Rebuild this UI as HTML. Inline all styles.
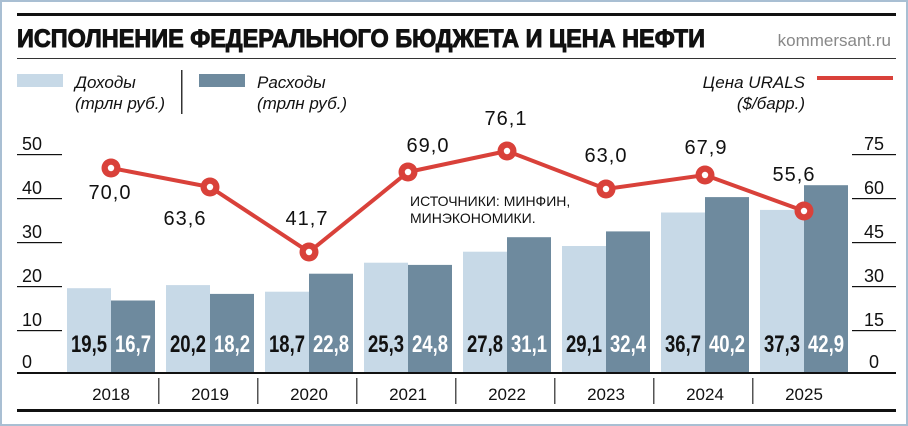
<!DOCTYPE html>
<html><head><meta charset="utf-8"><style>
body{margin:0;background:#fff}
svg{display:block}
text{font-family:"Liberation Sans",sans-serif}
.b{font-weight:bold;font-size:24px}
.o{font-size:20px;fill:#111;letter-spacing:1px}
.t{font-size:17px;fill:#111}
</style></head><body>
<svg width="908" height="426" viewBox="0 0 908 426">
<rect x="1" y="1" width="906" height="424" fill="#fff" stroke="#a9bfd3" stroke-width="2"/>
<rect x="17" y="13" width="879" height="3" fill="#111"/>
<text x="17" y="47" font-size="25" font-weight="900" fill="#111" stroke="#111" stroke-width="1" textLength="688" lengthAdjust="spacingAndGlyphs">ИСПОЛНЕНИЕ ФЕДЕРАЛЬНОГО БЮДЖЕТА И ЦЕНА НЕФТИ</text>
<text x="891" y="46" font-size="17" fill="#888" text-anchor="end">kommersant.ru</text>
<rect x="17" y="58" width="879" height="1" fill="#333"/>
<rect x="17" y="74" width="46" height="13" fill="#c7d9e7"/>
<text x="75" y="88" class="t" font-style="italic">Доходы</text>
<text x="75" y="109" class="t" font-style="italic">(трлн руб.)</text>
<rect x="181" y="70" width="1.5" height="44" fill="#333"/>
<rect x="199" y="74" width="46" height="13" fill="#6e8a9e"/>
<text x="257" y="88" class="t" font-style="italic">Расходы</text>
<text x="257" y="109" class="t" font-style="italic">(трлн руб.)</text>
<text x="805" y="88" class="t" font-style="italic" text-anchor="end">Цена URALS</text>
<text x="805" y="109" class="t" font-style="italic" text-anchor="end">($/барр.)</text>
<rect x="817" y="76" width="76" height="4" fill="#d9413a"/>
<g fill="#111" font-size="18">
<rect x="17" y="154" width="45" height="1.2"/><text x="22" y="150">50</text>
<rect x="17" y="198" width="45" height="1.2"/><text x="22" y="194">40</text>
<rect x="17" y="242" width="45" height="1.2"/><text x="22" y="238">30</text>
<rect x="17" y="286" width="45" height="1.2"/><text x="22" y="282">20</text>
<rect x="17" y="330" width="45" height="1.2"/><text x="22" y="326">10</text>
<text x="22" y="368">0</text>
<rect x="852" y="154" width="44" height="1.2"/><text x="874" y="150" text-anchor="middle">75</text>
<rect x="852" y="198" width="44" height="1.2"/><text x="874" y="194" text-anchor="middle">60</text>
<rect x="852" y="242" width="44" height="1.2"/><text x="874" y="238" text-anchor="middle">45</text>
<rect x="852" y="286" width="44" height="1.2"/><text x="874" y="282" text-anchor="middle">30</text>
<rect x="852" y="330" width="44" height="1.2"/><text x="874" y="326" text-anchor="middle">15</text>
<text x="874" y="368" text-anchor="middle">0</text>
</g>
<g id="bars">
<rect x="67" y="288.2" width="44" height="85.8" fill="#c7d9e7"/><rect x="111" y="300.5" width="44" height="73.5" fill="#6e8a9e"/>
<rect x="166" y="285.1" width="44" height="88.9" fill="#c7d9e7"/><rect x="210" y="293.9" width="44" height="80.1" fill="#6e8a9e"/>
<rect x="265" y="291.7" width="44" height="82.3" fill="#c7d9e7"/><rect x="309" y="273.7" width="44" height="100.3" fill="#6e8a9e"/>
<rect x="364" y="262.7" width="44" height="111.3" fill="#c7d9e7"/><rect x="408" y="264.9" width="44" height="109.1" fill="#6e8a9e"/>
<rect x="463" y="251.7" width="44" height="122.3" fill="#c7d9e7"/><rect x="507" y="237.2" width="44" height="136.8" fill="#6e8a9e"/>
<rect x="562" y="246" width="44" height="128" fill="#c7d9e7"/><rect x="606" y="231.4" width="44" height="142.6" fill="#6e8a9e"/>
<rect x="661" y="212.5" width="44" height="161.5" fill="#c7d9e7"/><rect x="705" y="197.1" width="44" height="176.9" fill="#6e8a9e"/>
<rect x="760" y="209.9" width="44" height="164.1" fill="#c7d9e7"/><rect x="804" y="185.2" width="44" height="188.8" fill="#6e8a9e"/>
</g>
<g class="b" text-anchor="middle">
<g fill="#111">
<text x="89" y="352" textLength="36" lengthAdjust="spacingAndGlyphs">19,5</text>
<text x="188" y="352" textLength="36" lengthAdjust="spacingAndGlyphs">20,2</text>
<text x="287" y="352" textLength="36" lengthAdjust="spacingAndGlyphs">18,7</text>
<text x="386" y="352" textLength="36" lengthAdjust="spacingAndGlyphs">25,3</text>
<text x="485" y="352" textLength="36" lengthAdjust="spacingAndGlyphs">27,8</text>
<text x="584" y="352" textLength="36" lengthAdjust="spacingAndGlyphs">29,1</text>
<text x="683" y="352" textLength="36" lengthAdjust="spacingAndGlyphs">36,7</text>
<text x="782" y="352" textLength="36" lengthAdjust="spacingAndGlyphs">37,3</text>
</g>
<g fill="#fff">
<text x="133" y="352" textLength="36" lengthAdjust="spacingAndGlyphs">16,7</text>
<text x="232" y="352" textLength="36" lengthAdjust="spacingAndGlyphs">18,2</text>
<text x="331" y="352" textLength="36" lengthAdjust="spacingAndGlyphs">22,8</text>
<text x="430" y="352" textLength="36" lengthAdjust="spacingAndGlyphs">24,8</text>
<text x="529" y="352" textLength="36" lengthAdjust="spacingAndGlyphs">31,1</text>
<text x="628" y="352" textLength="36" lengthAdjust="spacingAndGlyphs">32,4</text>
<text x="727" y="352" textLength="36" lengthAdjust="spacingAndGlyphs">40,2</text>
<text x="826" y="352" textLength="36" lengthAdjust="spacingAndGlyphs">42,9</text>
</g>
</g>
<rect x="17" y="372" width="879" height="2" fill="#111"/>
<g fill="#555"><rect x="158" y="378" width="1.5" height="26"/><rect x="257" y="378" width="1.5" height="26"/><rect x="356" y="378" width="1.5" height="26"/><rect x="455" y="378" width="1.5" height="26"/><rect x="554" y="378" width="1.5" height="26"/><rect x="653" y="378" width="1.5" height="26"/><rect x="752" y="378" width="1.5" height="26"/></g>
<g font-size="17" fill="#111" text-anchor="middle">
<text x="111" y="400">2018</text><text x="210" y="400">2019</text><text x="309" y="400">2020</text><text x="408" y="400">2021</text><text x="507" y="400">2022</text><text x="606" y="400">2023</text><text x="705" y="400">2024</text><text x="804" y="400">2025</text>
</g>
<rect x="17" y="409" width="879" height="3" fill="#111"/>
<text x="410" y="206" font-size="14" fill="#111">ИСТОЧНИКИ: МИНФИН,</text>
<text x="410" y="223" font-size="14" fill="#111">МИНЭКОНОМИКИ.</text>
<polyline points="111,168 210,187 309,252 408,172 507,151 606,189 705,175 804,211" fill="none" stroke="#d9413a" stroke-width="4"/>
<g fill="#d9413a"><circle cx="111" cy="168" r="9.5"/><circle cx="210" cy="187" r="9.5"/><circle cx="309" cy="252" r="9.5"/><circle cx="408" cy="172" r="9.5"/><circle cx="507" cy="151" r="9.5"/><circle cx="606" cy="189" r="9.5"/><circle cx="705" cy="175" r="9.5"/><circle cx="804" cy="211" r="9.5"/></g>
<g fill="#fff"><circle cx="111" cy="168" r="3.2"/><circle cx="210" cy="187" r="3.2"/><circle cx="309" cy="252" r="3.2"/><circle cx="408" cy="172" r="3.2"/><circle cx="507" cy="151" r="3.2"/><circle cx="606" cy="189" r="3.2"/><circle cx="705" cy="175" r="3.2"/><circle cx="804" cy="211" r="3.2"/></g>
<g class="o" text-anchor="middle">
<text x="110" y="199">70,0</text><text x="185" y="225">63,6</text><text x="307" y="225">41,7</text><text x="428" y="152">69,0</text><text x="506" y="125">76,1</text><text x="606" y="162">63,0</text><text x="706" y="154">67,9</text><text x="794" y="181">55,6</text>
</g>
</svg>
</body></html>
